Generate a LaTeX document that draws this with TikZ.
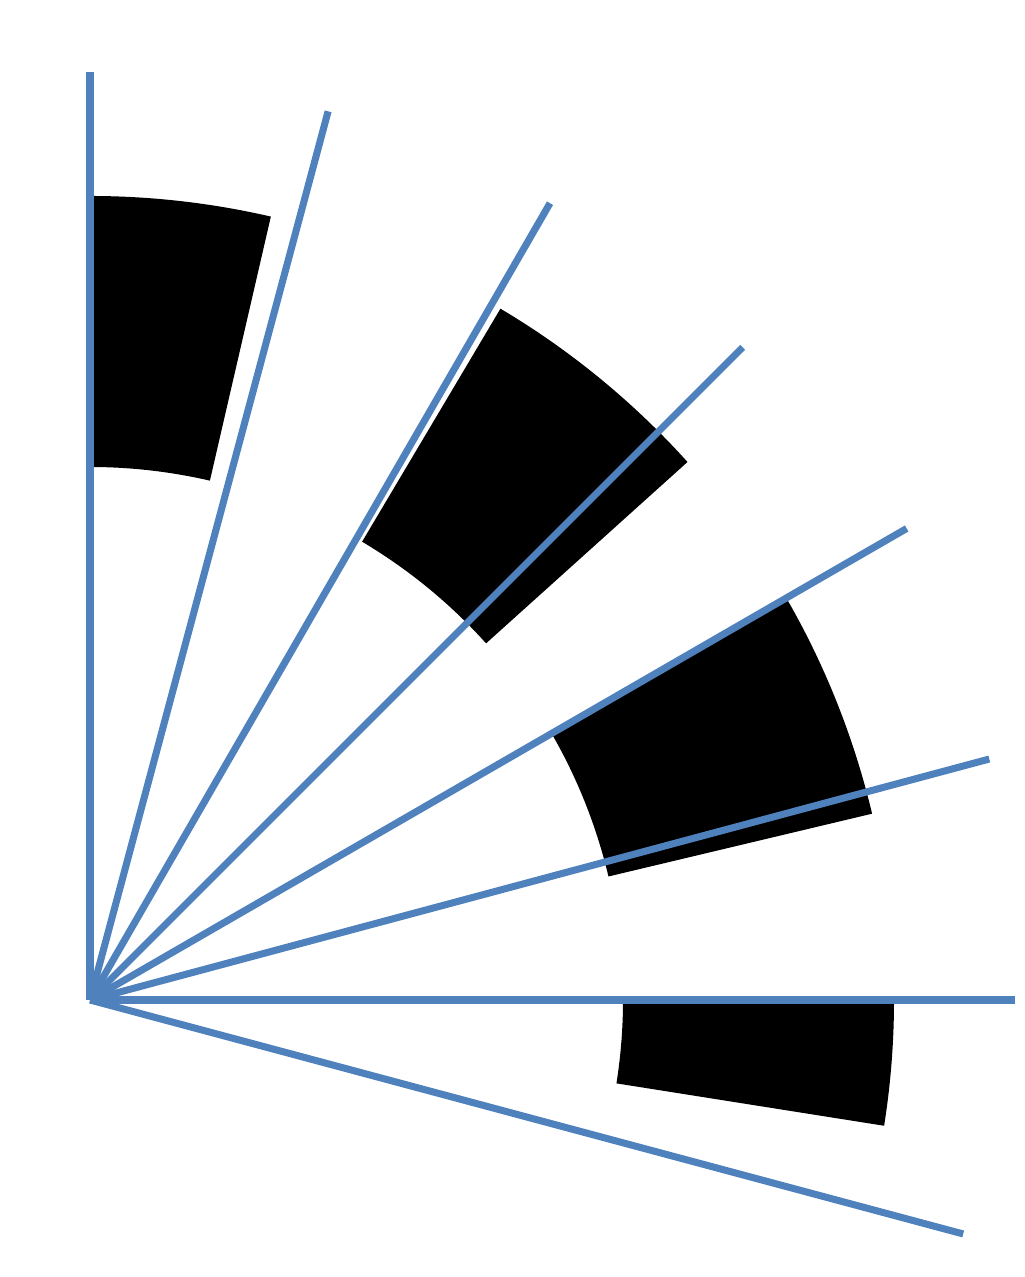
\documentclass[tikz,border=0pt]{standalone}
\usepackage{tikz}
\usetikzlibrary{arrows.meta, calc, positioning}
\definecolor{rayblue}{RGB}{79,129,189}

\tikzset{
  ray/.style={rayblue, line width=2pt},
  band/.style={fill=black}
}

\begin{document}
\begin{tikzpicture}[>=Stealth]
                % Frame
                \useasboundingbox (0,0) rectangle (10.24,12.77);
                \coordinate (O) at (0.90,2.77);

                \begin{scope}[shift={(O)}]
                % Black bands (inner radius 5.33, outer 8.04)
                \foreach \a/\b in {77/90, 42/59.3, 13.4/30, -9/0}
                    \fill[band] (\a:5.33) arc[start angle=\a, end angle=\b, radius=5.33]
                        -- (\b:8.04) arc[start angle=\b, end angle=\a, radius=8.04] -- cycle;

                % Rays from the corner
                \foreach \ang/\len [count=\i] in {90/9.28, 75/9.20, 60/9.20, 45/9.23, 30/9.43, 15/9.31, 0/9.25, -15/9.04}
                    \coordinate (r\i) at (\ang:\len);
                \end{scope}

                \foreach \i in {1,...,8}
                    \draw[ray] (O) -- (r\i);
            \end{tikzpicture}
\end{document}
